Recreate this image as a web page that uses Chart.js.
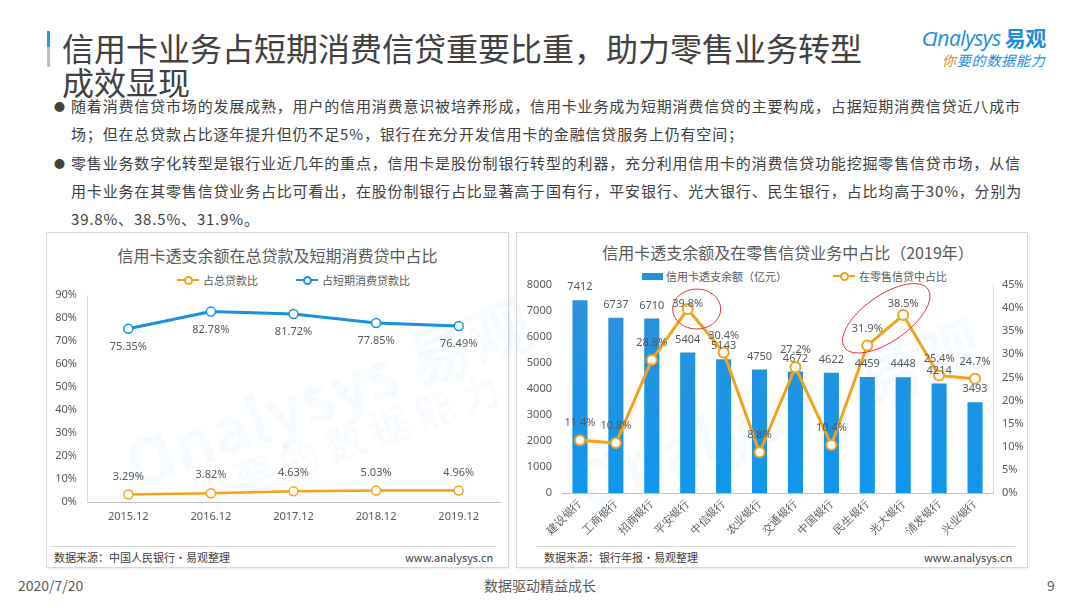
<!DOCTYPE html>
<html>
<head>
<meta charset="utf-8">
<script src="https://cdn.jsdelivr.net/npm/chart.js@4/dist/chart.umd.min.js"></script>
<style>
  body { margin: 0; width: 1080px; height: 608px; background: #fff; position: relative; overflow: hidden;
         font-family: "Noto Sans CJK SC", "Noto Sans", sans-serif; color: #404040; }
  .abs { position: absolute; white-space: nowrap; }
  #bar { left: 47px; top: 31px; width: 3px; height: 36px; background: linear-gradient(#1e9ae8 0 45%, #bfbfbf 45% 100%); }
  .title { left: 62px; font-size: 32px; line-height: 34px; color: #404040; }
  .txt { left: 71px; font-size: 15px; line-height: 20px; letter-spacing: 0.83px; color: #404040; }
  .dot { left: 54px; font-size: 11px; line-height: 20px; color: #404040; }
  .panel { border: 1px solid #d9d9d9; box-sizing: border-box; box-shadow: 1px 1px 2px rgba(0,0,0,0.08); }
  .ptitle { font-size: 16px; line-height: 20px; color: #595959; text-align: center; }
  .leg { font-size: 11px; line-height: 14px; color: #595959; display: flex; align-items: center; }
  .sym { position: relative; display: inline-block; width: 22px; height: 10px; margin-right: 4px; }
  .sym::before { content: ""; position: absolute; left: 0; right: 0; top: 4px; height: 2px; background: var(--c); }
  .sym::after { content: ""; position: absolute; left: 7px; top: 1px; width: 5px; height: 5px; border: 2px solid var(--c); border-radius: 50%; background: #fff; }
  .rect { display: inline-block; width: 21px; height: 7px; margin-right: 3px; background: linear-gradient(#2a8fdc, #1499ec); }
  .foot { font-size: 11px; line-height: 14px; color: #404040; }
  .fline { height: 1px; background: #d9d9d9; }
  .wm { color: rgba(40,150,225,0.05); font-weight: bold; transform-origin: left top; }
  .bottom { font-size: 14px; line-height: 18px; color: #595959; }
</style>
</head>
<body>
<div class="abs" id="bar"></div>
<div class="abs title" style="top:30px">信用卡业务占短期消费信贷重要比重，助力零售业务转型</div>
<div class="abs title" style="top:64px">成效显现</div>

<div class="abs" style="left:922px;top:25px;font-size:21px;line-height:24px;color:#1e8ee0;font-style:italic;letter-spacing:-0.5px">
  <span style="font-family:'Open Sans',sans-serif">Ɑnalysys</span> <b style="font-style:normal">易观</b></div>
<div class="abs" style="left:942px;top:51px;font-size:14px;line-height:18px;color:#1e8ee0;font-style:italic;letter-spacing:0.8px">
  <span style="color:#f08a1c">你</span>要的数据能力</div>

<div class="abs dot" style="top:96px">●</div>
<div class="abs txt" style="top:96px">随着消费信贷市场的发展成熟，用户的信用消费意识被培养形成，信用卡业务成为短期消费信贷的主要构成，占据短期消费信贷近八成市</div>
<div class="abs txt" style="top:124px">场；但在总贷款占比逐年提升但仍不足5%，银行在充分开发信用卡的金融信贷服务上仍有空间；</div>
<div class="abs dot" style="top:153px">●</div>
<div class="abs txt" style="top:153px">零售业务数字化转型是银行业近几年的重点，信用卡是股份制银行转型的利器，充分利用信用卡的消费信贷功能挖掘零售信贷市场，从信</div>
<div class="abs txt" style="top:181px">用卡业务在其零售信贷业务占比可看出，在股份制银行占比显著高于国有行，平安银行、光大银行、民生银行，占比均高于30%，分别为</div>
<div class="abs txt" style="top:209px">39.8%、38.5%、31.9%。</div>

<!-- left panel -->
<div class="abs panel" style="left:46px;top:232px;width:463px;height:336px"></div>
<div class="abs wm" style="left:110px;top:420px;font-size:64px;transform:rotate(-20deg)">Ɑnalysys 易观</div>
<div class="abs wm" style="left:180px;top:470px;font-size:40px;transform:rotate(-20deg);letter-spacing:8px">你要的数据能力</div>
<div class="abs ptitle" style="left:46px;top:245px;width:463px">信用卡透支余额在总贷款及短期消费贷中占比</div>
<div class="abs leg" style="left:177px;top:273px">
  <span class="sym" style="--c:#f5a21b"></span>占总贷款比
  <span style="display:inline-block;width:38px"></span>
  <span class="sym" style="--c:#1b8fe0"></span>占短期消费贷款比
</div>
<div class="abs" style="left:47px;top:233px;width:460px;height:310px"><canvas id="leftChart"></canvas></div>
<div class="abs fline" style="left:50px;top:546px;width:446px"></div>
<div class="abs foot" style="left:54px;top:550px">数据来源：中国人民银行·易观整理</div>
<div class="abs foot" style="left:405px;top:550px;width:88px;text-align:right">www.analysys.cn</div>

<!-- right panel -->
<div class="abs panel" style="left:516px;top:232px;width:512px;height:336px"></div>
<div class="abs wm" style="left:560px;top:440px;font-size:64px;transform:rotate(-20deg)">Ɑnalysys 易观</div>
<div class="abs ptitle" style="left:528px;top:242px;width:520px">信用卡透支余额及在零售信贷业务中占比（2019年）</div>
<div class="abs leg" style="left:642px;top:269px">
  <span class="rect"></span>信用卡透支余额（亿元）
  <span style="display:inline-block;width:46px"></span>
  <span class="sym" style="--c:#f5a21b"></span>在零售信贷中占比
</div>
<div class="abs" style="left:517px;top:233px;width:509px;height:312px"><canvas id="rightChart"></canvas></div>
<div class="abs fline" style="left:536px;top:546px;width:480px"></div>
<div class="abs foot" style="left:544px;top:550px">数据来源：银行年报·易观整理</div>
<div class="abs foot" style="left:924px;top:550px;width:88px;text-align:right">www.analysys.cn</div>

<div class="abs bottom" style="left:18px;top:576px">2020/7/20</div>
<div class="abs bottom" style="left:440px;top:576px;width:200px;text-align:center">数据驱动精益成长</div>
<div class="abs bottom" style="left:1047px;top:576px">9</div>

<script>
// left chart data
var years = ['2015.12', '2016.12', '2017.12', '2018.12', '2019.12'];
var shareOfTotalLoans = [3.29, 3.82, 4.63, 5.03, 4.96];
var shareOfShortConsumer = [75.35, 82.78, 81.72, 77.85, 76.49];

// right chart data
var banks = ['建设银行', '工商银行', '招商银行', '平安银行', '中信银行', '农业银行',
             '交通银行', '中国银行', '民生银行', '光大银行', '浦发银行', '兴业银行'];
var overdraftBalance = [7412, 6737, 6710, 5404, 5143, 4750, 4672, 4622, 4459, 4448, 4214, 3493];
var retailShare = [11.4, 10.8, 28.8, 39.8, 30.4, 8.8, 27.2, 10.4, 31.9, 38.5, 25.4, 24.7];

var ORANGE = '#f5a21b';
var BLUE = '#1b8fe0';
var TEXT = '#595959';
var FONT = '"Noto Sans", "Liberation Sans", sans-serif';

Chart.defaults.font.family = FONT;
Chart.defaults.color = TEXT;
Chart.defaults.animation = false;

// draws value labels next to each point / bar
var valueLabels = {
  id: 'valueLabels',
  afterDatasetsDraw: function (chart) {
    var ctx = chart.ctx;
    ctx.save();
    ctx.font = '11px ' + FONT;
    ctx.fillStyle = TEXT;
    ctx.textAlign = 'center';
    ctx.textBaseline = 'middle';
    chart.data.datasets.forEach(function (ds, di) {
      var meta = chart.getDatasetMeta(di);
      meta.data.forEach(function (el, i) {
        var y = el.y + ds.labelOffset;
        if (ds.labelMinTop != null) y = Math.max(y, chart.chartArea.top + ds.labelMinTop);
        ctx.fillText(ds.labelFormat(ds.data[i]), el.x, y);
      });
    });
    ctx.restore();
  }
};

// red highlight ellipses around chosen points
var highlights = {
  id: 'highlights',
  afterDatasetsDraw: function (chart) {
    var pts = chart.getDatasetMeta(1).data;
    var ctx = chart.ctx;
    ctx.save();
    ctx.strokeStyle = '#e3343c';
    ctx.lineWidth = 1;
    var a = pts[3];
    ctx.beginPath();
    ctx.ellipse(a.x + 9, a.y, 24, 20, 0, 0, Math.PI * 2);
    ctx.stroke();
    var b = pts[8], c = pts[9];
    ctx.beginPath();
    ctx.ellipse((b.x + c.x) / 2 + 1, (b.y + c.y) / 2 - 12, 51, 23, -35 * Math.PI / 180, 0, Math.PI * 2);
    ctx.stroke();
    ctx.restore();
  }
};

var pctLabel = function (v) { return v.toFixed(2) + '%'; };

new Chart(document.getElementById('leftChart'), {
  type: 'line',
  data: {
    labels: years,
    datasets: [{
      label: '占总贷款比',
      data: shareOfTotalLoans,
      borderColor: ORANGE,
      borderWidth: 2.5,
      pointBackgroundColor: '#fff',
      pointBorderColor: ORANGE,
      pointBorderWidth: 1.5,
      pointRadius: 4.5,
      labelOffset: -18,
      labelFormat: pctLabel
    }, {
      label: '占短期消费贷款比',
      data: shareOfShortConsumer,
      borderColor: BLUE,
      borderWidth: 3,
      pointBackgroundColor: '#fff',
      pointBorderColor: BLUE,
      pointBorderWidth: 1.5,
      pointRadius: 4.5,
      labelOffset: 18,
      labelFormat: pctLabel
    }]
  },
  options: {
    responsive: true,
    maintainAspectRatio: false,
    layout: { padding: { top: 62, right: 7, left: 0, bottom: 0 } },
    plugins: { legend: { display: false }, tooltip: { enabled: false } },
    scales: {
      x: {
        offset: true,
        grid: { display: false, drawTicks: false },
        border: { color: '#bfbfbf' },
        ticks: { padding: 8, font: { size: 11 } },
        afterFit: function (s) { s.height = 41; }
      },
      y: {
        min: 0,
        max: 90,
        grid: { display: false, drawTicks: false },
        border: { color: '#d9d9d9' },
        ticks: { stepSize: 10, padding: 10, font: { size: 11 }, callback: function (v) { return v + '%'; } },
        afterFit: function (s) { s.width = 40; }
      }
    }
  },
  plugins: [valueLabels]
});

new Chart(document.getElementById('rightChart'), {
  data: {
    labels: banks,
    datasets: [{
      type: 'bar',
      label: '信用卡透支余额（亿元）',
      data: overdraftBalance,
      yAxisID: 'y',
      backgroundColor: function (c) {
        var area = c.chart.chartArea;
        if (!area) return '#1e93e4';
        var g = c.chart.ctx.createLinearGradient(0, area.top, 0, area.bottom);
        g.addColorStop(0, '#2f8fdb');
        g.addColorStop(1, '#0f97ec');
        return g;
      },
      categoryPercentage: 1,
      barPercentage: 0.42,
      order: 2,
      labelOffset: -13,
      labelFormat: function (v) { return String(v); }
    }, {
      type: 'line',
      label: '在零售信贷中占比',
      data: retailShare,
      yAxisID: 'y1',
      borderColor: ORANGE,
      borderWidth: 3,
      pointBackgroundColor: '#fff',
      pointBorderColor: ORANGE,
      pointBorderWidth: 2,
      pointRadius: 5,
      order: 1,
      labelOffset: -17,
      labelMinTop: 19,
      labelFormat: function (v) { return v.toFixed(1) + '%'; }
    }]
  },
  options: {
    responsive: true,
    maintainAspectRatio: false,
    layout: { padding: { top: 52, right: 0, left: 0, bottom: 0 } },
    plugins: { legend: { display: false }, tooltip: { enabled: false } },
    scales: {
      x: {
        grid: { display: false, drawTicks: false },
        border: { color: '#bfbfbf' },
        ticks: { padding: 4, minRotation: 45, maxRotation: 45, font: { size: 11 } },
        afterFit: function (s) { s.height = 52; }
      },
      y: {
        position: 'left',
        min: 0,
        max: 8000,
        grid: { display: false, drawTicks: false },
        border: { display: false },
        ticks: { stepSize: 1000, padding: 10, font: { size: 11 }, callback: function (v) { return String(v); } },
        afterFit: function (s) { s.width = 45; }
      },
      y1: {
        position: 'right',
        min: 0,
        max: 45,
        grid: { display: false, drawOnChartArea: false, drawTicks: true, tickLength: 4, color: '#bfbfbf' },
        border: { display: true, color: '#d9d9d9' },
        ticks: { stepSize: 5, padding: 5, font: { size: 11 }, callback: function (v) { return v + '%'; } },
        afterFit: function (s) { s.width = 33; }
      }
    }
  },
  plugins: [valueLabels, highlights]
});
</script>
</body>
</html>
